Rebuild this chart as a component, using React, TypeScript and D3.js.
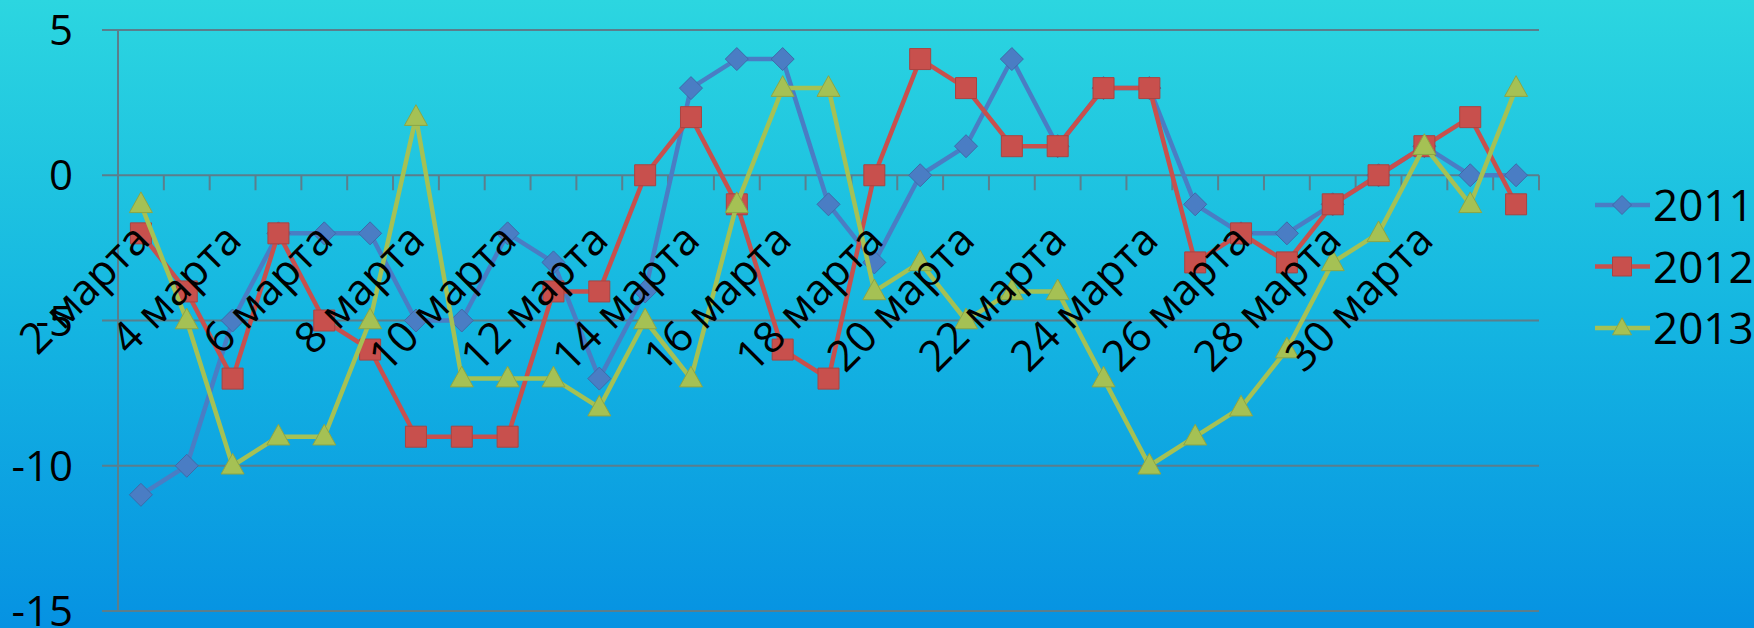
import React from 'react';
import * as d3 from 'd3';

// Daily values for March, one array per year
const categories: string[] = [
  '2 марта', '3 марта', '4 марта', '5 марта', '6 марта', '7 марта', '8 марта', '9 марта',
  '10 марта', '11 марта', '12 марта', '13 марта', '14 марта', '15 марта', '16 марта', '17 марта',
  '18 марта', '19 марта', '20 марта', '21 марта', '22 марта', '23 марта', '24 марта', '25 марта',
  '26 марта', '27 марта', '28 марта', '29 марта', '30 марта', '31 марта', '1 апреля',
];

const tickLabels: string[] = [
  '2 марта', '4 марта', '6 марта', '8 марта', '10 марта', '12 марта', '14 марта', '16 марта',
  '18 марта', '20 марта', '22 марта', '24 марта', '26 марта', '28 марта', '30 марта',
];

const values2011: number[] = [-11, -10, -5, -2, -2, -2, -5, -5, -2, -3, -7, -4, 3, 4, 4, -1, -3, 0, 1, 4, 1, 3, 3, -1, -2, -2, -1, 0, 1, 0, 0];
const values2012: number[] = [-2, -4, -7, -2, -5, -6, -9, -9, -9, -4, -4, 0, 2, -1, -6, -7, 0, 4, 3, 1, 1, 3, 3, -3, -2, -3, -1, 0, 1, 2, -1];
const values2013: number[] = [-1, -5, -10, -9, -9, -5, 2, -7, -7, -7, -8, -5, -7, -1, 3, 3, -4, -3, -5, -4, -4, -7, -10, -9, -8, -6, -3, -2, 1, -1, 3];

const yTicks: number[] = [5, 0, -5, -10, -15];

type Shape = 'diamond' | 'square' | 'triangle';
const seriesList: { name: string; values: number[]; color: string; stroke: string; shape: Shape }[] = [
  { name: '2011', values: values2011, color: '#4a7dc4', stroke: '#3f6aa8', shape: 'diamond' },
  { name: '2012', values: values2012, color: '#c8504d', stroke: '#a94442', shape: 'square' },
  { name: '2013', values: values2013, color: '#a5c154', stroke: '#8ca646', shape: 'triangle' },
];

const W = 1754;
const H = 628;
const FONT = '"Open Sans", "Noto Sans", sans-serif';

function markerPath(shape: Shape, size: number): string {
  const h = size / 2;
  if (shape === 'diamond') return `M0,${-h}L${h},0L0,${h}L${-h},0Z`;
  if (shape === 'square') return `M${-h},${-h}H${h}V${h}H${-h}Z`;
  const t = size * 0.9;
  return `M0,${-t * 0.6}L${h},${t * 0.4}L${-h},${t * 0.4}Z`;
}

export default function App() {
  React.useEffect(() => {
    document.body.style.margin = '0';
  }, []);

  const x = d3.scaleBand<string>().domain(categories).range([118, 1539]).padding(0);
  const y = d3.scaleLinear().domain([-15, 5]).range([611, 30]);
  const cx = (c: string) => (x(c) ?? 0) + x.bandwidth() / 2;

  const line = d3
    .line<number>()
    .x((_, i) => cx(categories[i]))
    .y((v) => y(v));

  const gridColor = '#5b7e8c';
  const [x0, x1] = x.range();
  const boundaries = d3.range(categories.length + 1).map((i) => x0 + i * x.bandwidth());

  return (
    <svg width={W} height={H} style={{ position: 'absolute', left: 0, top: 0 }} xmlns="http://www.w3.org/2000/svg">
      <defs>
        <linearGradient id="bg" x1="0" y1="0" x2="0" y2="1">
          <stop offset="0%" stopColor="#2cd6e0" />
          <stop offset="50%" stopColor="#15b6e1" />
          <stop offset="100%" stopColor="#0692e2" />
        </linearGradient>
      </defs>
      <rect x={0} y={0} width={W} height={H} fill="url(#bg)" />

      {/* horizontal gridlines with outside tick marks */}
      {yTicks.map((t) => (
        <line key={`g${t}`} x1={102} x2={x1} y1={y(t)} y2={y(t)} stroke={gridColor} strokeWidth={2} />
      ))}
      {/* vertical value axis */}
      <line x1={x0} x2={x0} y1={y(5)} y2={y(-15)} stroke={gridColor} strokeWidth={2} />
      {/* category tick marks on the zero line */}
      {boundaries.slice(1).map((bx, i) => (
        <line key={`t${i}`} x1={bx} x2={bx} y1={y(0)} y2={y(0) + 15} stroke={gridColor} strokeWidth={2} />
      ))}

      {/* value axis labels */}
      {yTicks.map((t) => (
        <text key={`y${t}`} x={73} y={y(t) + 15} textAnchor="end" fontFamily={FONT} fontSize={42} fill="#000">
          {t}
        </text>
      ))}

      {/* series */}
      {seriesList.map((s) => (
        <g key={s.name}>
          <path d={line(s.values) ?? ''} fill="none" stroke={s.color} strokeWidth={4.5} strokeLinejoin="round" />
          {s.values.map((v, i) => (
            <path
              key={i}
              d={markerPath(s.shape, s.shape === 'diamond' ? 23 : s.shape === 'square' ? 21 : 23)}
              transform={`translate(${cx(categories[i])},${y(v)})`}
              fill={s.color}
              stroke={s.stroke}
              strokeWidth={1}
            />
          ))}
        </g>
      ))}

      {/* rotated category labels */}
      {tickLabels.map((lab) => (
        <text
          key={lab}
          transform={`translate(${cx(lab) + 11},${y(0) + 67}) rotate(-45)`}
          textAnchor="end"
          fontFamily={FONT}
          fontSize={43}
          fill="#000"
        >
          {lab}
        </text>
      ))}

      {/* legend */}
      {seriesList.map((s, i) => {
        const ly = 205 + i * 61.5;
        return (
          <g key={`l${s.name}`}>
            <line x1={1595} x2={1650} y1={ly} y2={ly} stroke={s.color} strokeWidth={4.5} />
            <path d={markerPath(s.shape, 19)} transform={`translate(1622,${ly})`} fill={s.color} stroke={s.stroke} strokeWidth={1} />
            <text x={1653} y={ly + 16} fontFamily={FONT} fontSize={44} fill="#000">
              {s.name}
            </text>
          </g>
        );
      })}
    </svg>
  );
}
